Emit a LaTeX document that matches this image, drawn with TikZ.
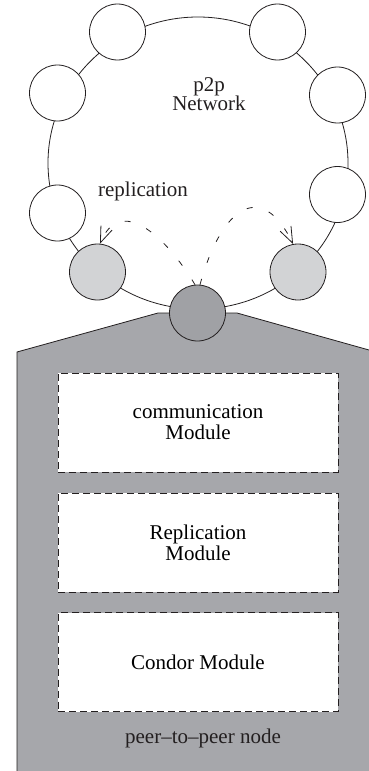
\documentclass[tikz,border=0pt]{standalone}
\usepackage{fontspec}
\setmainfont{Liberation Serif}
\usetikzlibrary{arrows.meta,shapes.geometric}
\definecolor{housegray}{RGB}{166,167,171}
\definecolor{lightnode}{RGB}{210,211,213}
\definecolor{darknode}{RGB}{160,161,165}
\definecolor{inkc}{RGB}{35,31,32}
\tikzset{
  peer/.style={circle,draw=inkc,line width=0.8pt,fill=white,minimum size=56pt,inner sep=0pt},
  replpeer/.style={peer,fill=lightnode},
  selfpeer/.style={peer,fill=darknode},
  modbox/.style={draw=inkc,line width=0.8pt,dash pattern=on 7pt off 4pt,fill=white,minimum width=280pt,minimum height=99pt,align=center,inner sep=0pt,font=\fontsize{21}{24}\selectfont},
  lbl/.style={inner sep=0pt,align=center,text=inkc,font=\fontsize{21}{24}\selectfont},
  repl/.style={draw=inkc,line width=0.8pt,dash pattern=on 6pt off 17pt,-{Straight Barb[length=16pt,width=12pt,line width=0.8pt]}}
}
\begin{document}
\begin{tikzpicture}[x=1pt,y=-1pt]
\useasboundingbox (0,0) rectangle (369,771);
% ring
\node[ellipse,draw=inkc,line width=0.8pt,minimum width=300pt,minimum height=292pt,inner sep=0pt] (ring) at (198,163) {};
% housing
\fill[housegray] (17,771) -- (17,352) -- (158,313) -- (237,313) -- (369,350) -- (369,771) -- cycle;
\draw[inkc,line width=0.8pt] (17,771) -- (17,352) -- (158,313) -- (237,313) -- (369,350);
% peers
\node[peer] (p1) at (117.5,32) {};
\node[peer] (p2) at (277.5,32) {};
\node[peer] (p3) at (57.5,93) {};
\node[peer] (p4) at (337.5,95) {};
\node[peer] (p5) at (57.5,213) {};
\node[peer] (p6) at (337.5,194.5) {};
\node[replpeer] (g1) at (97.5,272) {};
\node[replpeer] (g2) at (298,272) {};
\node[selfpeer] (c) at (197.5,313) {};
% labels
\node[lbl] (net) at (209,94) {p2p\\[-5pt]Network};
\node[lbl] (rep) at (143,191) {replication};
% replication arrows
\draw[repl] (c.95) .. controls (165,235) and (120,195) .. (g1.85);
\draw[repl] (c.85) .. controls (222,205) and (262,180) .. (g2.100);
% modules
\node[modbox] (m1) at (198,422.5) {communication\\[-3pt]Module};
\node[modbox] (m2) at (198,542.5) {Replication\\[-3pt]Module};
\node[modbox] (m3) at (198,662) {Condor Module};
\node[lbl] (pn) at (203,738) {peer--to--peer node};
\end{tikzpicture}
\end{document}
